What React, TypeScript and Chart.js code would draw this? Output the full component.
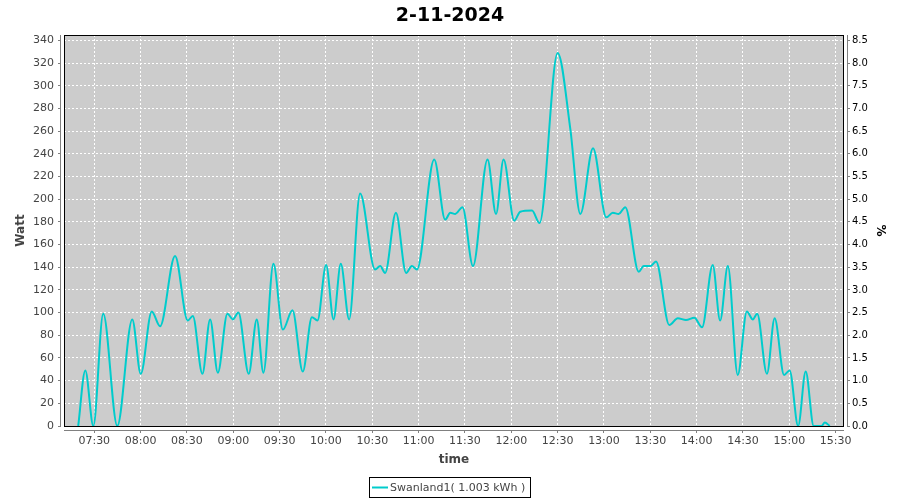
import React, { useEffect, useRef } from "react";
import { Chart, registerables } from "chart.js";

Chart.register(...registerables);

const chartTitle = "2-11-2024";
const seriesName = "Swanland1( 1.003 kWh )";
const xAxisTitle = "time";
const yAxisTitle = "Watt";
const y2AxisTitle = "%";

const sampleTimes = [
  "07:19:36", "07:24:12", "07:29:24", "07:35:48", "07:44:54", "07:54:36", "08:00:06", "08:07:12",
  "08:12:36", "08:22:18", "08:30:30", "08:33:48", "08:40:00", "08:45:00", "08:50:00", "08:56:12",
  "08:59:42", "09:03:18", "09:10:00", "09:15:12", "09:19:30", "09:26:00", "09:32:06", "09:38:18",
  "09:45:00", "09:50:54", "09:54:30", "10:00:06", "10:04:54", "10:09:36", "10:15:00", "10:22:06",
  "10:31:48", "10:35:06", "10:38:18", "10:45:18", "10:51:54", "10:55:36", "10:58:54", "11:10:06",
  "11:17:12", "11:20:30", "11:23:42", "11:28:24", "11:35:12", "11:44:36", "11:50:06", "11:55:00",
  "12:01:54", "12:05:48", "12:13:24", "12:18:18", "12:30:00", "12:38:12", "12:44:42", "12:52:54",
  "13:01:30", "13:05:42", "13:09:30", "13:13:48", "13:22:30", "13:25:42", "13:30:00", "13:33:42",
  "13:42:18", "13:47:48", "13:53:06", "13:58:30", "14:03:30", "14:10:24", "14:15:12", "14:20:12",
  "14:26:36", "14:32:30", "14:36:24", "14:39:12", "14:45:30", "14:50:30", "14:56:36", "15:00:12",
  "15:05:42", "15:10:36", "15:15:48", "15:20:48", "15:23:00", "15:26:12",
];

const wattValues = [
  0, 49, 0, 99, 0, 94, 46, 101,
  88, 150, 93, 97, 46, 94, 47, 99,
  94, 100, 46, 94, 47, 143, 85, 102,
  48, 96, 93, 142, 94, 143, 94, 205,
  138, 141, 135, 188, 135, 141, 138, 235,
  182, 188, 187, 193, 141, 235, 187, 235,
  181, 189, 190, 179, 329, 262, 187, 245,
  184, 188, 187, 193, 136, 141, 141, 145,
  89, 95, 93.5, 95.5, 87, 142, 93, 141,
  45, 101, 94, 99, 46, 95, 45, 49,
  0, 48, 0, 0, 3, 0,
];

const timeTickLabels = [
  "07:30", "08:00", "08:30", "09:00", "09:30", "10:00", "10:30", "11:00", "11:30",
  "12:00", "12:30", "13:00", "13:30", "14:00", "14:30", "15:00", "15:30",
];
const wattTicks = [0, 20, 40, 60, 80, 100, 120, 140, 160, 180, 200, 220, 240, 260, 280, 300, 320, 340];
const percentTicks = [0, 0.5, 1, 1.5, 2, 2.5, 3, 3.5, 4, 4.5, 5, 5.5, 6, 6.5, 7, 7.5, 8, 8.5];

const xRangeStart = "07:10:24";
const xRangeEnd = "15:35:24";
const wattMax = 344.8;
const percentMax = 8.62;

const toMinutes = (s: string) => {
  const p = s.split(":").map(Number);
  return p[0] * 60 + p[1] + (p[2] || 0) / 60;
};
const fmtTime = (v: number) => {
  const h = Math.floor(v / 60);
  const m = Math.round(v - h * 60);
  return String(h).padStart(2, "0") + ":" + String(m).padStart(2, "0");
};

const FONT = "'DejaVu Sans', sans-serif";
const LINE_COLOR = "#00cccc";

const align = (p: number) => Math.round(p - 0.5) + 0.5;

const decorPlugin = {
  id: "decor",
  beforeDraw(chart: any) {
    const { ctx, chartArea: a } = chart;
    ctx.save();
    ctx.fillStyle = "#ffffff";
    ctx.fillRect(0, 0, chart.width, chart.height);
    ctx.fillStyle = "#cccccc";
    ctx.fillRect(a.left, a.top, a.right - a.left, a.bottom - a.top);
    ctx.restore();
  },
  afterDraw(chart: any) {
    const { ctx, chartArea: a, scales } = chart;
    ctx.save();
    // plot outline
    ctx.strokeStyle = "#000000";
    ctx.lineWidth = 1;
    ctx.strokeRect(a.left + 0.5, a.top + 0.5, a.right - a.left - 1, a.bottom - a.top);

    // offset axis lines + tick marks
    ctx.strokeStyle = "#808080";
    ctx.beginPath();
    const lx = a.left - 4 + 0.5;
    ctx.moveTo(lx, a.top);
    ctx.lineTo(lx, a.bottom + 1);
    scales.y.ticks.forEach((t: any) => {
      const py = align(scales.y.getPixelForValue(t.value));
      ctx.moveTo(lx - 2.5, py);
      ctx.lineTo(lx, py);
    });
    const rx = a.right - 1 + 4 + 0.5;
    ctx.moveTo(rx, a.top);
    ctx.lineTo(rx, a.bottom + 1);
    scales.y1.ticks.forEach((t: any) => {
      const py = align(scales.y1.getPixelForValue(t.value));
      ctx.moveTo(rx, py);
      ctx.lineTo(rx + 2.5, py);
    });
    const by = a.bottom + 4 + 0.5;
    ctx.moveTo(a.left, by);
    ctx.lineTo(a.right, by);
    scales.x.ticks.forEach((t: any) => {
      const px = align(scales.x.getPixelForValue(t.value));
      ctx.moveTo(px, by);
      ctx.lineTo(px, by + 2.5);
    });
    ctx.stroke();

    // title
    ctx.fillStyle = "#000000";
    ctx.font = `bold 19px ${FONT}`;
    ctx.textAlign = "center";
    ctx.textBaseline = "alphabetic";
    ctx.fillText(chartTitle, chart.width / 2, 21);

    // axis titles
    ctx.font = `bold 12px ${FONT}`;
    ctx.fillStyle = "#444444";
    ctx.textBaseline = "middle";
    ctx.fillText(xAxisTitle, (a.left + a.right) / 2, 460);
    const cy = (a.top + a.bottom) / 2;
    ctx.save();
    ctx.translate(20.5, cy);
    ctx.rotate(-Math.PI / 2);
    ctx.fillText(yAxisTitle, 0, 0);
    ctx.restore();
    ctx.save();
    ctx.fillStyle = "#000000";
    ctx.translate(880.5, cy);
    ctx.rotate(Math.PI / 2);
    ctx.fillText(y2AxisTitle, 0, 0);
    ctx.restore();

    // legend
    const label = chart.data.datasets[0].label as string;
    ctx.font = `11px ${FONT}`;
    const tw = ctx.measureText(label).width;
    const padL = 3, sample = 16, gap = 2, padR = 5;
    const w = padL + sample + gap + tw + padR;
    const lx0 = Math.round(chart.width / 2 - w / 2);
    const ly0 = 477;
    const lh = 20;
    ctx.strokeStyle = "#000000";
    ctx.lineWidth = 1;
    ctx.strokeRect(lx0 + 0.5, ly0 + 0.5, Math.round(w), lh);
    ctx.strokeStyle = LINE_COLOR;
    ctx.lineWidth = 2;
    ctx.beginPath();
    ctx.moveTo(lx0 + padL, ly0 + 10.5);
    ctx.lineTo(lx0 + padL + sample, ly0 + 10.5);
    ctx.stroke();
    ctx.fillStyle = "#444444";
    ctx.textAlign = "left";
    ctx.textBaseline = "middle";
    ctx.fillText(label, lx0 + padL + sample + gap, ly0 + 11);
    ctx.restore();
  },
};

export default function App() {
  const canvasRef = useRef<HTMLCanvasElement | null>(null);

  useEffect(() => {
    if (!canvasRef.current) return;
    const points = sampleTimes.map((t, i) => ({ x: toMinutes(t), y: wattValues[i] }));
    const xTickValues = timeTickLabels.map(toMinutes);

    const chart = new Chart(canvasRef.current, {
      type: "line",
      data: {
        datasets: [
          {
            label: seriesName,
            data: points,
            borderColor: LINE_COLOR,
            backgroundColor: LINE_COLOR,
            borderWidth: 2,
            pointRadius: 0,
            fill: false,
            tension: 0.4,
            cubicInterpolationMode: "monotone",
            yAxisID: "y",
          },
        ],
      },
      options: {
        responsive: false,
        animation: false,
        parsing: false,
        layout: { padding: { top: 35, left: 0, right: 0, bottom: 0 } },
        plugins: {
          legend: { display: false },
          title: { display: false },
          tooltip: { enabled: false },
        },
        scales: {
          x: {
            type: "linear",
            position: "bottom",
            min: toMinutes(xRangeStart),
            max: toMinutes(xRangeEnd),
            afterBuildTicks: (scale: any) => {
              scale.ticks = xTickValues.map((v) => ({ value: v }));
            },
            afterFit: (scale: any) => {
              scale.height = 74;
            },
            grid: { color: "#ffffff", lineWidth: 1, drawTicks: false, drawOnChartArea: true },
            border: { display: false, dash: [2, 2] },
            ticks: {
              padding: 9,
              maxRotation: 0,
              autoSkip: false,
              color: "#444444",
              font: { family: FONT, size: 11 },
              callback: (v: any) => fmtTime(Number(v)),
            },
          },
          y: {
            type: "linear",
            position: "left",
            min: 0,
            max: wattMax,
            afterBuildTicks: (scale: any) => {
              scale.ticks = wattTicks.map((v) => ({ value: v }));
            },
            afterFit: (scale: any) => {
              scale.width = 64;
            },
            grid: { color: "#ffffff", lineWidth: 1, drawTicks: false, drawOnChartArea: true },
            border: { display: false, dash: [2, 2] },
            ticks: {
              padding: 10,
              autoSkip: false,
              color: "#444444",
              font: { family: FONT, size: 11 },
              callback: (v: any) => String(v),
            },
          },
          y1: {
            type: "linear",
            position: "right",
            min: 0,
            max: percentMax,
            afterBuildTicks: (scale: any) => {
              scale.ticks = percentTicks.map((v) => ({ value: v }));
            },
            afterFit: (scale: any) => {
              scale.width = 56;
            },
            grid: { drawOnChartArea: false, drawTicks: false },
            border: { display: false },
            ticks: {
              padding: 8,
              autoSkip: false,
              color: "#000000",
              font: { family: FONT, size: 10 },
              callback: (v: any) => Number(v).toFixed(1),
            },
          },
        },
      },
      plugins: [decorPlugin],
    } as any);

    return () => chart.destroy();
  }, []);

  return (
    <div style={{ position: "fixed", left: 0, top: 0, width: 900, height: 500, background: "#fff" }}>
      <canvas ref={canvasRef} width={900} height={500} style={{ display: "block" }} />
    </div>
  );
}
